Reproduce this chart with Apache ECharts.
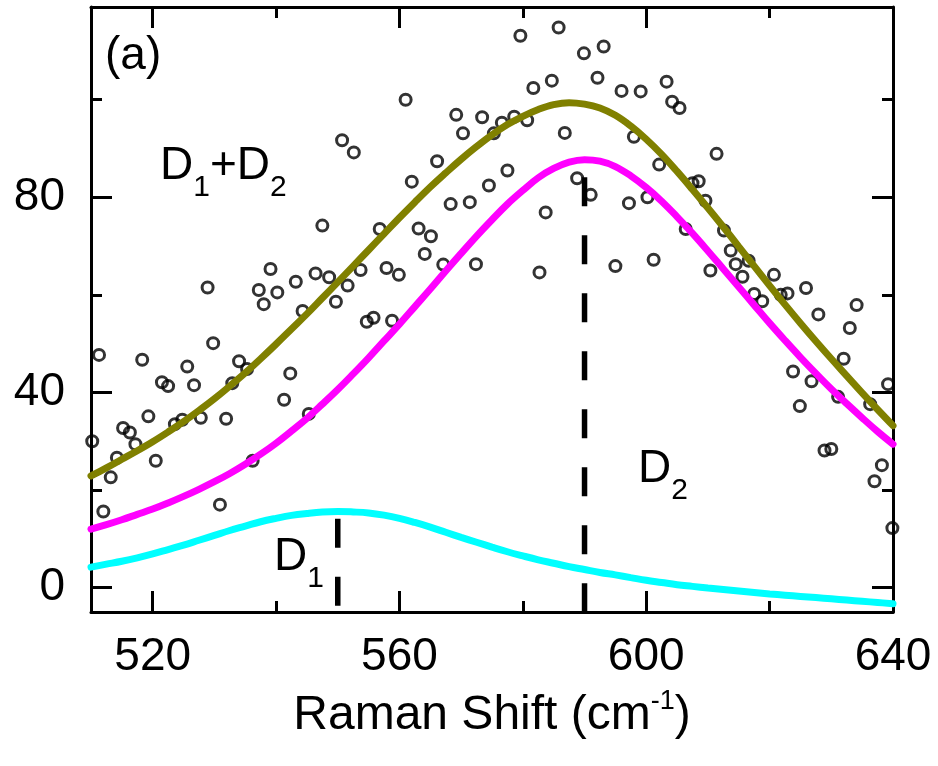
<!DOCTYPE html>
<html>
<head>
<meta charset="utf-8">
<script src="https://cdn.jsdelivr.net/npm/echarts@6/dist/echarts.min.js"></script>
<style>
html,body{margin:0;padding:0;background:#fff;}
#chart{width:938px;height:766px;}
</style>
</head>
<body>
<div id="chart"></div>
<script>
// ---------- data ----------
var scatterX = [550.7,552.6,547.5,539.1,528.9,537.2,540.2,538.0,543.2,546.4,548.6,551.6,549.7,544.3,
  579.6,585.8,589.9,593.1,592.1,584.7,581.7,596.0,561.0,569.2,573.4,576.6,578.6,580.7,570.3,575.3,586.8,
  566.1,562.0,577.5,574.5,588.8,591.0,568.3,571.4,583.7,556.8,563.1,565.1,564.1,567.1,572.4,582.7,595.0,
  553.7,557.9,559.9,555.8,558.8,554.7,
  599.1,603.3,604.2,605.4,598.0,611.4,602.1,607.5,608.5,609.6,600.2,597.2,606.4,612.6,613.7,616.6,614.5,
  610.4,615.6,620.7,601.2,617.5,618.8,621.8,622.9,625.9,627.9,634.1,
  633.0,632.0,623.8,626.8,624.9,631.1,636.3,639.2,628.9,630.0,638.2,637.0,639.9,
  511.3,518.3,529.8,525.6,521.5,522.5,526.7,534.0,535.3,532.9,542.3,541.3,519.3,523.6,524.8,527.8,531.9,
  515.2,516.3,517.2,510.2,514.2,520.5,513.2,536.2,545.3,530.9,512.0];
var scatterY = [91.7,89.2,74.2,65.3,61.5,61.0,60.5,58.1,62.7,64.4,63.6,61.9,58.6,56.7,
  113.1,114.8,109.5,110.9,104.5,103.9,102.4,101.8,100.0,96.9,96.4,95.3,96.5,95.8,93.1,93.1,93.2,
  87.4,83.2,85.5,82.4,83.9,80.5,78.6,79.0,76.9,73.5,73.6,72.0,68.4,66.2,66.3,64.6,65.9,
  65.1,65.5,64.1,55.3,54.7,54.5,
  101.7,103.7,99.6,98.3,92.4,88.9,86.7,82.9,83.3,79.3,80.0,78.8,73.5,73.2,69.1,67.0,66.3,
  65.0,63.7,64.1,67.2,60.2,58.7,60.0,60.3,61.4,56.0,57.9,
  53.2,46.9,44.3,42.3,37.2,39.1,37.6,41.7,28.1,28.4,25.1,21.8,12.2,
  47.7,46.7,50.1,45.3,42.1,41.3,41.5,46.4,44.8,41.9,43.9,38.5,35.1,33.5,34.4,34.8,34.6,
  32.7,31.8,29.4,30.0,26.6,26.0,22.6,26.0,35.6,17.0,15.6];

var curveX = [510,512.5,515,517.5,520,522.5,525,527.5,530,532.5,535,537.5,540,542.5,545,547.5,550,552.5,555,557.5,
  560,562.5,565,567.5,570,572.5,575,577.5,580,582.5,585,587.5,590,592.5,595,597.5,600,602.5,605,607.5,
  610,612.5,615,617.5,620,622.5,625,627.5,630,632.5,635,637.5,640];
var d1Values = [4.2,4.8,5.4,6.1,6.9,7.8,8.7,9.7,10.7,11.7,12.6,13.5,14.2,14.8,15.2,15.5,15.6,15.5,15.3,14.85,
  14.2,13.35,12.4,11.35,10.3,9.3,8.3,7.35,6.5,5.7,5.0,4.3,3.7,3.1,2.6,2.05,1.5,1.05,0.6,0.25,
  -0.1,-0.4,-0.7,-1.0,-1.3,-1.55,-1.8,-2.05,-2.3,-2.55,-2.8,-3.05,-3.3];
var d2Values = [12.0,12.9,13.9,15.0,16.1,17.35,18.7,20.15,21.7,23.4,25.3,27.35,29.6,32.1,34.7,37.6,40.6,43.8,47.1,50.55,
  54.0,57.6,61.2,64.9,68.5,72.05,75.4,78.6,81.4,84.0,85.9,87.2,87.7,87.4,86.3,84.4,82.0,79.2,76.0,72.6,
  69.0,65.3,61.6,57.9,54.2,50.65,47.2,43.9,40.7,37.7,34.8,32.0,29.4];
var sumValues = [22.9,24.55,26.3,28.05,29.9,31.9,34.0,36.3,38.7,41.3,44.0,46.9,49.9,53.0,56.1,59.35,62.6,65.9,69.2,72.5,
  75.8,79.0,82.1,85.0,87.8,90.4,92.8,94.9,96.6,98.0,99.0,99.4,99.1,98.3,96.8,94.6,91.9,88.8,85.3,81.6,
  77.8,73.9,69.9,65.9,61.9,58.0,54.2,50.5,46.9,43.4,39.9,36.5,33.2];

var peakPositions = [550, 590];
var peakMarkerTops = [14.1, 84.1];

var xMajorTicks = [520, 560, 600, 640];
var xMinorTicks = [540, 580, 620];
var yMajorTicks = [0, 40, 80];
var yMinorTicks = [20, 60, 100];
var xRange = [510, 640];
var yRange = [-5, 119];

// ---------- build ----------
var FONT = "'Liberation Sans', Arial, Helvetica, sans-serif";
function pairs(xs, ys) { return xs.map(function (x, i) { return [x, ys[i]]; }); }

function xAx(pos, ticks, len, major) {
  return {
    type: 'value', position: pos, min: xRange[0], max: xRange[1],
    axisLine: { show: major, onZero: false, lineStyle: { color: '#000', width: 3 } },
    axisTick: { show: true, inside: true, length: len, customValues: ticks, lineStyle: { color: '#000', width: 3 } },
    axisLabel: { show: false },
    splitLine: { show: false }
  };
}
function yAx(pos, ticks, len, major) {
  return {
    type: 'value', position: pos, min: yRange[0], max: yRange[1],
    axisLine: { show: major, onZero: false, lineStyle: { color: '#000', width: 3 } },
    axisTick: { show: true, inside: true, length: len, customValues: ticks, lineStyle: { color: '#000', width: 3 } },
    axisLabel: { show: false },
    splitLine: { show: false }
  };
}

var xBottom = xAx('bottom', xMajorTicks, 21, true);
xBottom.axisLabel = { show: true, customValues: xMajorTicks, fontSize: 46, fontFamily: FONT, color: '#000', margin: 22 };
xBottom.name = '{b|Raman Shift (cm}{s|-1}{b|)}';
xBottom.nameLocation = 'middle';
xBottom.nameGap = 76;
xBottom.nameTextStyle = {
  color: '#000', fontFamily: FONT, fontSize: 48,
  rich: {
    b: { fontSize: 48, fontFamily: FONT, color: '#000', lineHeight: 56 },
    s: { fontSize: 27, fontFamily: FONT, color: '#000', lineHeight: 36, verticalAlign: 'top' }
  }
};
var yLeft = yAx('left', yMajorTicks, 21, true);
yLeft.axisLabel = { show: true, customValues: yMajorTicks, fontSize: 46, fontFamily: FONT, color: '#000', margin: 26 };

var xAxes = [xBottom, xAx('bottom', xMinorTicks, 11, false), xAx('top', xMajorTicks, 21, true), xAx('top', xMinorTicks, 11, false)];
var yAxes = [yLeft, yAx('left', yMinorTicks, 11, false), yAx('right', yMajorTicks, 21, true), yAx('right', yMinorTicks, 11, false)];

function curve(vals, color) {
  return {
    type: 'line', xAxisIndex: 0, yAxisIndex: 0, data: pairs(curveX, vals),
    smooth: 0.4, showSymbol: false, symbol: 'none', z: 3,
    lineStyle: { color: color, width: 7, cap: 'round' }, silent: true, clip: true
  };
}
function marker(i) {
  return {
    type: 'line', xAxisIndex: 0, yAxisIndex: 0,
    data: [[peakPositions[i], peakMarkerTops[i]], [peakPositions[i], yRange[0]]],
    showSymbol: false, symbol: 'none', z: 4, silent: true,
    lineStyle: { color: '#000', width: 5.5, type: [29, 29], cap: 'butt' }
  };
}
function subLabel(base1, sub1, base2, sub2) {
  var t = '{b|' + base1 + '}{s|' + sub1 + '}';
  if (base2) t += '{b|' + base2 + '}{s|' + sub2 + '}';
  return {
    text: t, verticalAlign: 'top', fill: '#000',
    rich: {
      b: { fontSize: 46, fontFamily: FONT, fill: '#000', lineHeight: 74 },
      s: { fontSize: 30, fontFamily: FONT, fill: '#000', lineHeight: 30, verticalAlign: 'bottom' }
    }
  };
}

var option = {
  animation: false,
  backgroundColor: '#fff',
  textStyle: { fontFamily: FONT },
  grid: { left: 91, right: 45, top: 7, bottom: 154, containLabel: false },
  xAxis: xAxes,
  yAxis: yAxes,
  series: [
    {
      type: 'scatter', xAxisIndex: 0, yAxisIndex: 0, data: pairs(scatterX, scatterY),
      symbol: 'circle', symbolSize: 11, z: 2, silent: true,
      itemStyle: { color: 'rgba(0,0,0,0)', borderColor: '#000', borderWidth: 3 }
    },
    curve(d1Values, '#00FFFF'),
    curve(d2Values, '#FF00FF'),
    curve(sumValues, '#808000'),
    marker(0),
    marker(1)
  ],
  graphic: [
    { type: 'text', x: 105, y: 33, z: 10, style: { text: '(a)', fontSize: 46, fontFamily: FONT, fill: '#000', verticalAlign: 'top', lineHeight: 46 } },
    { type: 'text', x: 160, y: 129, z: 10, style: subLabel('D', '1', '+D', '2') },
    { type: 'text', x: 638, y: 432, z: 10, style: subLabel('D', '2') },
    { type: 'text', x: 274, y: 520, z: 10, style: subLabel('D', '1') }
  ]
};

var chart = echarts.init(document.getElementById('chart'), null, { renderer: 'canvas' });
chart.setOption(option);
</script>
</body>
</html>
